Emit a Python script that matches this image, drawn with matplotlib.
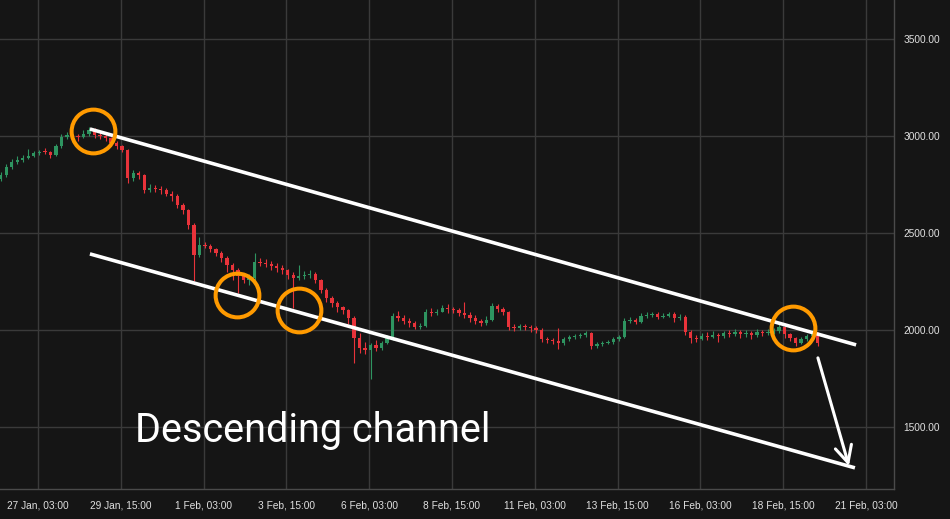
import matplotlib
matplotlib.use("Agg")
import matplotlib.pyplot as plt
import matplotlib.dates as mdates
import pandas as pd
import numpy as np

# 4-hour candles
start = "2024-01-26 00:00"
closes = [2799, 2840, 2866, 2876, 2887, 2897, 2912, 2918, 2915, 2902,
          2948, 2995, 3005, 3000, 2995, 3010, 3031, 3005, 3000, 2990,
          2964, 2948, 2928, 2783, 2809, 2799, 2722, 2732, 2727, 2722,
          2701, 2691, 2644, 2619, 2541, 2387, 2438, 2433, 2418, 2397,
          2371, 2335, 2309, 2278, 2258, 2268, 2350, 2345, 2340, 2330,
          2320, 2309, 2283, 2268, 2278, 2283, 2290, 2258, 2206, 2165,
          2139, 2118, 2103, 2062, 1959, 1907, 1897, 1923, 1907, 1933,
          1959, 2072, 2062, 2046, 2036, 2015, 2020, 2093, 2088, 2095,
          2113, 2108, 2103, 2088, 2077, 2062, 2046, 2036, 2051, 2124,
          2108, 2093, 2015, 2010, 2018, 2015, 2008, 2000, 1954, 1948,
          1943, 1933, 1954, 1964, 1969, 1974, 1984, 1917, 1928, 1933,
          1938, 1954, 1964, 2046, 2050, 2041, 2072, 2077, 2080, 2067,
          2072, 2082, 2062, 2067, 1990, 1959, 1954, 1969, 1965, 1974,
          1969, 1984, 1980, 1990, 1979, 1984, 1974, 1990, 1984, 1990,
          1995, 2015, 1979, 1959, 1933, 1954, 1969, 1984, 1933]
highs = [2815, 2855, 2880, 2895, 2900, 2935, 2925, 2930, 2940, 2925,
         2960, 3010, 3020, 3015, 3010, 3030, 3045, 3040, 3020, 3015,
         2995, 2975, 2955, 2935, 2825, 2820, 2805, 2750, 2745, 2740,
         2730, 2715, 2700, 2655, 2625, 2550, 2480, 2455, 2445, 2425,
         2405, 2380, 2345, 2320, 2290, 2290, 2395, 2370, 2365, 2355,
         2345, 2335, 2315, 2300, 2335, 2305, 2310, 2300, 2265, 2215,
         2175, 2150, 2125, 2110, 2070, 1985, 1940, 1935, 1950, 1945,
         1975, 2085, 2100, 2075, 2060, 2045, 2035, 2110, 2115, 2110,
         2130, 2135, 2120, 2115, 2145, 2090, 2075, 2055, 2070, 2140,
         2135, 2120, 2100, 2030, 2030, 2032, 2025, 2022, 2008, 1965,
         1960, 2010, 1965, 1975, 1980, 1985, 1995, 1990, 1940, 1945,
         1950, 1965, 1975, 2060, 2065, 2060, 2085, 2095, 2092, 2090,
         2085, 2095, 2090, 2080, 2075, 2000, 1975, 1985, 1990, 1995,
         1985, 1995, 2000, 2005, 2000, 2000, 1995, 2005, 2000, 2005,
         2010, 2030, 2020, 1985, 1965, 1965, 1980, 2000, 1990]
lows = [2770, 2790, 2830, 2855, 2865, 2880, 2890, 2900, 2905, 2885,
        2895, 2940, 2985, 2980, 2975, 2990, 3000, 2990, 2985, 2975,
        2950, 2935, 2915, 2760, 2770, 2780, 2705, 2710, 2712, 2700,
        2690, 2665, 2630, 2600, 2520, 2250, 2375, 2420, 2400, 2380,
        2350, 2300, 2255, 2190, 2240, 2230, 2260, 2330, 2325, 2310,
        2300, 2290, 2265, 2115, 2255, 2265, 2270, 2240, 2190, 2145,
        2120, 2095, 2080, 2030, 1830, 1880, 1875, 1745, 1890, 1895,
        1925, 1950, 2045, 2030, 2015, 2005, 2005, 2015, 2070, 2075,
        2090, 2085, 2085, 2070, 2060, 2040, 2030, 2020, 2025, 2045,
        2095, 2075, 2000, 1995, 1998, 2000, 1990, 1985, 1940, 1935,
        1930, 1900, 1920, 1945, 1955, 1960, 1965, 1900, 1905, 1915,
        1925, 1930, 1945, 1960, 2035, 2030, 2035, 2060, 2065, 2055,
        2060, 2065, 2040, 2050, 1975, 1935, 1940, 1950, 1950, 1960,
        1940, 1960, 1965, 1970, 1960, 1965, 1955, 1965, 1970, 1975,
        1980, 1985, 1960, 1945, 1915, 1925, 1945, 1970, 1915]
first_open = 2780

y_ticks = [1500, 2000, 2500, 3000, 3500]
x_tick_start = "2024-01-27 03:00"
n_x_ticks = 11

# channel lines: (time, price) endpoints
upper_line = [("2024-01-28 16:40", 3036), ("2024-02-20 19:50", 1923)]
lower_line = [("2024-01-28 16:40", 2392), ("2024-02-20 19:00", 1289)]
circle_times = ["2024-01-28 18:50", "2024-02-02 03:10", "2024-02-04 00:10", "2024-02-18 22:10"]
circle_prices = [3026, 2180, 2103, 2010]
arrow_from = ("2024-02-19 16:10", 1856)
arrow_to = ("2024-02-20 14:40", 1299)
label_text = "Descending channel"
label_pos = ("2024-01-30 01:20", 1423)

bg = "#151515"
grid_c = "#3a3a3a"
up_c = "#2e9460"
down_c = "#e8333a"
orange = "#ff9a00"

times = pd.date_range(start, periods=len(closes), freq="4h")
x = mdates.date2num(times)
opens = [first_open] + closes[:-1]

fig = plt.figure(figsize=(9.5, 5.19), dpi=100, facecolor=bg)
ax = fig.add_axes([0, 30 / 519, 894 / 950, 489 / 519])
ax.set_facecolor(bg)

o = np.array(opens, dtype=float)
c = np.array(closes, dtype=float)
colors = [up_c if cc >= oo else down_c for oo, cc in zip(o, c)]
bottoms = np.minimum(o, c)
heights = np.maximum(np.abs(c - o), 6)
width = 4 / 24 * 0.6
ax.vlines(x, lows, highs, colors=colors, lw=0.8, zorder=2)
ax.bar(x, heights, width=width, bottom=bottoms, color=colors, zorder=3, linewidth=0)

for line in [upper_line, lower_line]:
    lx = mdates.date2num(pd.to_datetime([p[0] for p in line]))
    ly = [p[1] for p in line]
    ax.plot(lx, ly, color="white", lw=2.6, solid_capstyle="butt", zorder=5)

cx = mdates.date2num(pd.to_datetime(circle_times))
ax.plot(cx, circle_prices, "o", ms=31.5, mfc="none", mec=orange, mew=2.9, zorder=6)

ax.annotate("", xy=(mdates.date2num(pd.Timestamp(arrow_to[0])), arrow_to[1]),
            xytext=(mdates.date2num(pd.Timestamp(arrow_from[0])), arrow_from[1]),
            arrowprops=dict(arrowstyle="->,head_length=1.2,head_width=0.6",
                            color="white", lw=2.2, shrinkA=0, shrinkB=0), zorder=6)

ax.text(mdates.date2num(pd.Timestamp(label_pos[0])), label_pos[1], label_text,
        color="white", fontsize=28.5, family="Roboto", va="baseline", ha="left", zorder=7)

x_left = mdates.date2num(pd.Timestamp(x_tick_start)) - 27.5 / 24
x_right = mdates.date2num(pd.Timestamp(x_tick_start)) + 620.3 / 24
ax.set_xlim(x_left, x_right)
ax.set_ylim(1180, 3701)

xt = pd.date_range(x_tick_start, periods=n_x_ticks, freq="60h")
ax.set_xticks(mdates.date2num(xt))
ax.set_xticklabels([f"{t.day} {t.strftime('%b, %H:%M')}" for t in xt])
ax.set_yticks(y_ticks)
ax.set_yticklabels([f"{v:.2f}" for v in y_ticks])
ax.yaxis.tick_right()

ax.grid(True, color=grid_c, lw=1.0)
ax.set_axisbelow(True)
ax.tick_params(axis="both", length=0, colors="#e0e0e0", labelsize=7.3)
ax.tick_params(axis="y", pad=7)
ax.tick_params(axis="x", pad=8)
for lab in ax.get_xticklabels() + ax.get_yticklabels():
    lab.set_family("Liberation Sans")
for side in ["top", "left"]:
    ax.spines[side].set_visible(False)
for side in ["right", "bottom"]:
    ax.spines[side].set_color("#4a4a4a")
    ax.spines[side].set_linewidth(1.0)

fig.savefig("out.png", dpi=100, facecolor=bg)
